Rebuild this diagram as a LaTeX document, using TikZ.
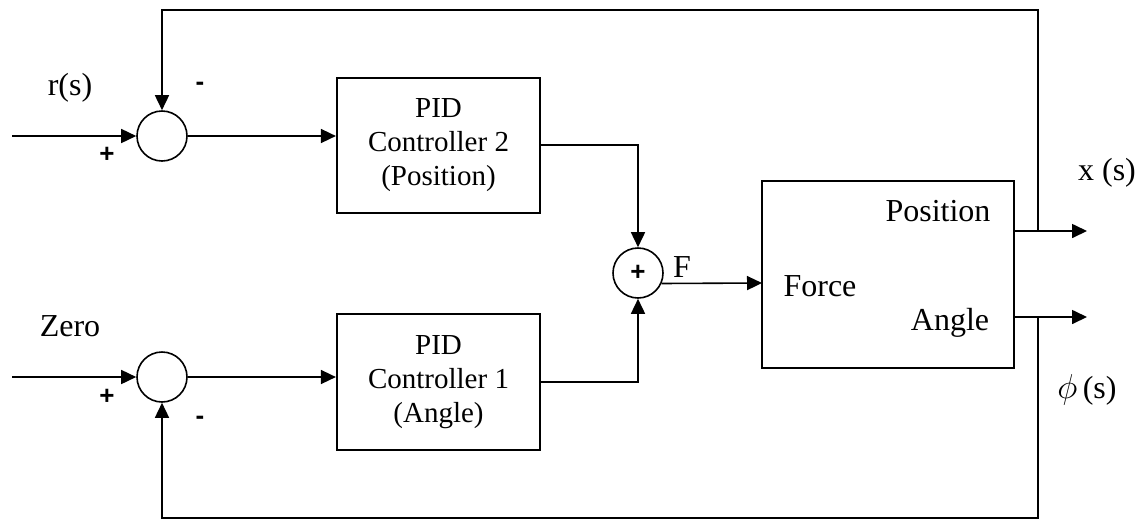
\documentclass[tikz,border=0pt]{standalone}
\usepackage{fontspec}
\setmainfont{Liberation Serif}
\newfontfamily\signfont{Liberation Sans}
\usetikzlibrary{arrows.meta}
\begin{document}
\begin{tikzpicture}[x=0.5pt,y=-0.5pt,
  font=\fontsize{16}{17}\selectfont,
  sumj/.style={draw,circle,line width=0.8pt,minimum size=25pt,inner sep=0pt},
  blk/.style={draw,line width=1.1pt,inner sep=0pt,align=center},
  pid/.style={blk,font=\fontsize{14.5}{17}\selectfont},
  conn/.style={line width=0.8pt,-{Triangle[length=7.5pt,width=7pt]}},
  wire/.style={line width=0.8pt},
  sgn/.style={font=\signfont\bfseries\fontsize{13}{13}\selectfont,inner sep=0pt}]
\useasboundingbox (0,0) rectangle (1143,520);
% summing junctions
\node[sumj] (S1) at (162,136) {};
\node[sumj] (S2) at (162,377) {};
\node[sumj] (S3) at (638,273) {};
\node[sgn] at (S3) {+};
% blocks
\node[pid,minimum width=101.5pt,minimum height=67.5pt] (P2) at (438.5,145.5) {PID\\Controller 2\\(Position)};
\node[pid,minimum width=101.5pt,minimum height=68pt] (P1) at (438.5,382) {PID\\Controller 1\\(Angle)};
\node[blk,minimum width=126pt,minimum height=93.5pt] (F) at (888,274.5) {};
\node (tpos) at (938,211) {Position};
\node (tforce) at (820,286) {Force};
\node (tang) at (950,323) {Angle};
% coordinates
\coordinate (in1) at (12,136);
\coordinate (in2) at (12,377);
\coordinate (o1) at (1014,231);
\coordinate (o2) at (1014,317);
\coordinate (e1) at (1087,231);
\coordinate (e2) at (1087,317);
\coordinate (j1) at (1038,231);
\coordinate (j2) at (1038,317);
\coordinate (tr) at (1038,10);
\coordinate (tl) at (162,10);
\coordinate (br) at (1038,518);
\coordinate (bl) at (162,518);
\coordinate (p2o) at (540,145);
\coordinate (p1o) at (540,382);
\coordinate (fin) at (762,283);
% connectors
\draw[conn] (in1) -- (S1.west);
\draw[conn] (in2) -- (S2.west);
\draw[conn] (S1.east) -- (P2.west |- S1.east);
\draw[conn] (S2.east) -- (P1.west |- S2.east);
\draw[conn] (p2o) -| (S3.north);
\draw[conn] (p1o) -| (S3.south);
\draw[conn] (S3.-24) -- (fin);
\draw[conn] (o1) -- (e1);
\draw[conn] (o2) -- (e2);
\draw[conn] (j1) -- (tr) -- (tl) -- (S1.north);
\draw[conn] (j2) -- (br) -- (bl) -- (S2.south);
% labels
\node (rs) at (70,88) {r(s)};
\node (zero) at (70,326) {Zero};
\node (Flab) at (682,267) {F};
\node (xs) at (1107,173) {x (s)};
\node (phis) at (1087,390) {$\phi$\,(s)};
\node[sgn] (p1) at (107,155) {+};
\node[sgn] (m1) at (200,86) {-};
\node[sgn] (p2) at (107,397) {+};
\node[sgn] (m2) at (200,420) {-};
\end{tikzpicture}
\end{document}
